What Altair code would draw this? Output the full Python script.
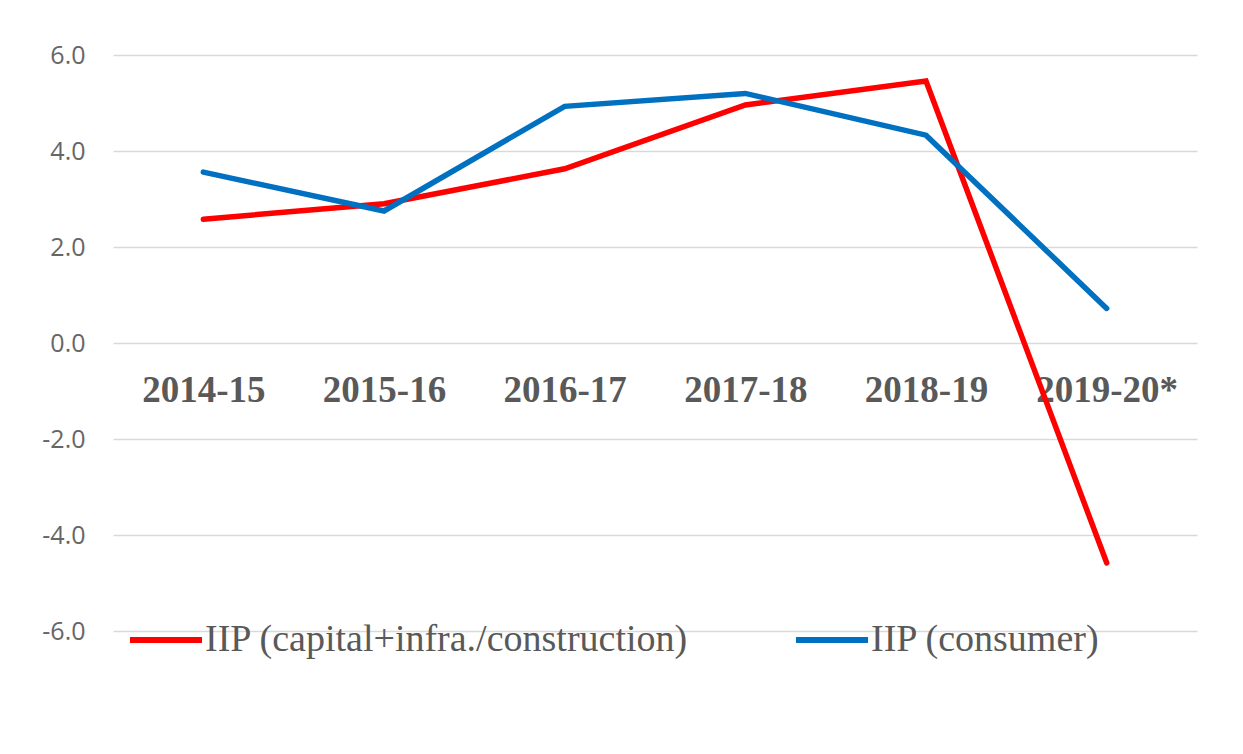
import altair as alt
import pandas as pd

years = ["2014-15", "2015-16", "2016-17", "2017-18", "2018-19", "2019-20*"]
capital = [2.58, 2.90, 3.63, 4.96, 5.46, -4.58]
consumer = [3.56, 2.75, 4.93, 5.20, 4.33, 0.72]
series = ["IIP (capital+infra./construction)", "IIP (consumer)"]
colors = ["#ff0000", "#0070c0"]
y_ticks = [-6, -4, -2, 0, 2, 4, 6]

df_cap = pd.DataFrame({"year": years, "value": capital, "series": series[0]})
df_con = pd.DataFrame({"year": years, "value": consumer, "series": series[1]})

TEXT = "#595959"

x = alt.X(
    "year:O",
    sort=years,
    scale=alt.Scale(padding=0.5),
    axis=alt.Axis(
        title=None, orient="bottom", offset=-288, labelAngle=0,
        labelPadding=47, labelBaseline="middle",
        labelFont="Liberation Serif", labelFontWeight="bold",
        labelFontSize=37, labelColor=TEXT,
        domain=False, ticks=False, grid=False,
    ),
)
y = alt.Y(
    "value:Q",
    scale=alt.Scale(domain=[-6, 6], nice=False, zero=False),
    axis=alt.Axis(
        values=y_ticks, title=None,
        labelExpr="replace(format(datum.value, '.1f'), '\u2212', '-')",
        labelFont="Open Sans", labelFontSize=25, labelColor="#666666",
        labelPadding=28, domain=False, ticks=False,
        gridColor="#d9d9d9", gridWidth=1.5,
    ),
)
color = alt.Color(
    "series:N",
    scale=alt.Scale(domain=series, range=colors),
    legend=alt.Legend(
        title=None, orient="none", legendX=14, legendY=546,
        direction="horizontal", symbolType="stroke", symbolSize=5184,
        symbolStrokeWidth=6, labelFont="Liberation Serif", labelFontSize=38,
        labelColor=TEXT, labelLimit=1000, labelOffset=0, columnPadding=95,
        padding=0,
    ),
)

red = alt.Chart(df_cap).mark_line(strokeWidth=5.5, strokeCap="round").encode(x=x, y=y, color=color)
blue = alt.Chart(df_con).mark_line(strokeWidth=5.5, strokeCap="round").encode(x=x, y=y, color=color)

chart = alt.layer(red, blue).properties(
    width=1084, height=576,
    autosize=alt.AutoSizeParams(type="none"),
    padding={"left": 105, "top": 47, "right": 38, "bottom": 115},
).configure(background="white").configure_view(stroke=None, strokeWidth=0)

chart.save("out.html", embed_options={"renderer": "svg", "actions": False})
